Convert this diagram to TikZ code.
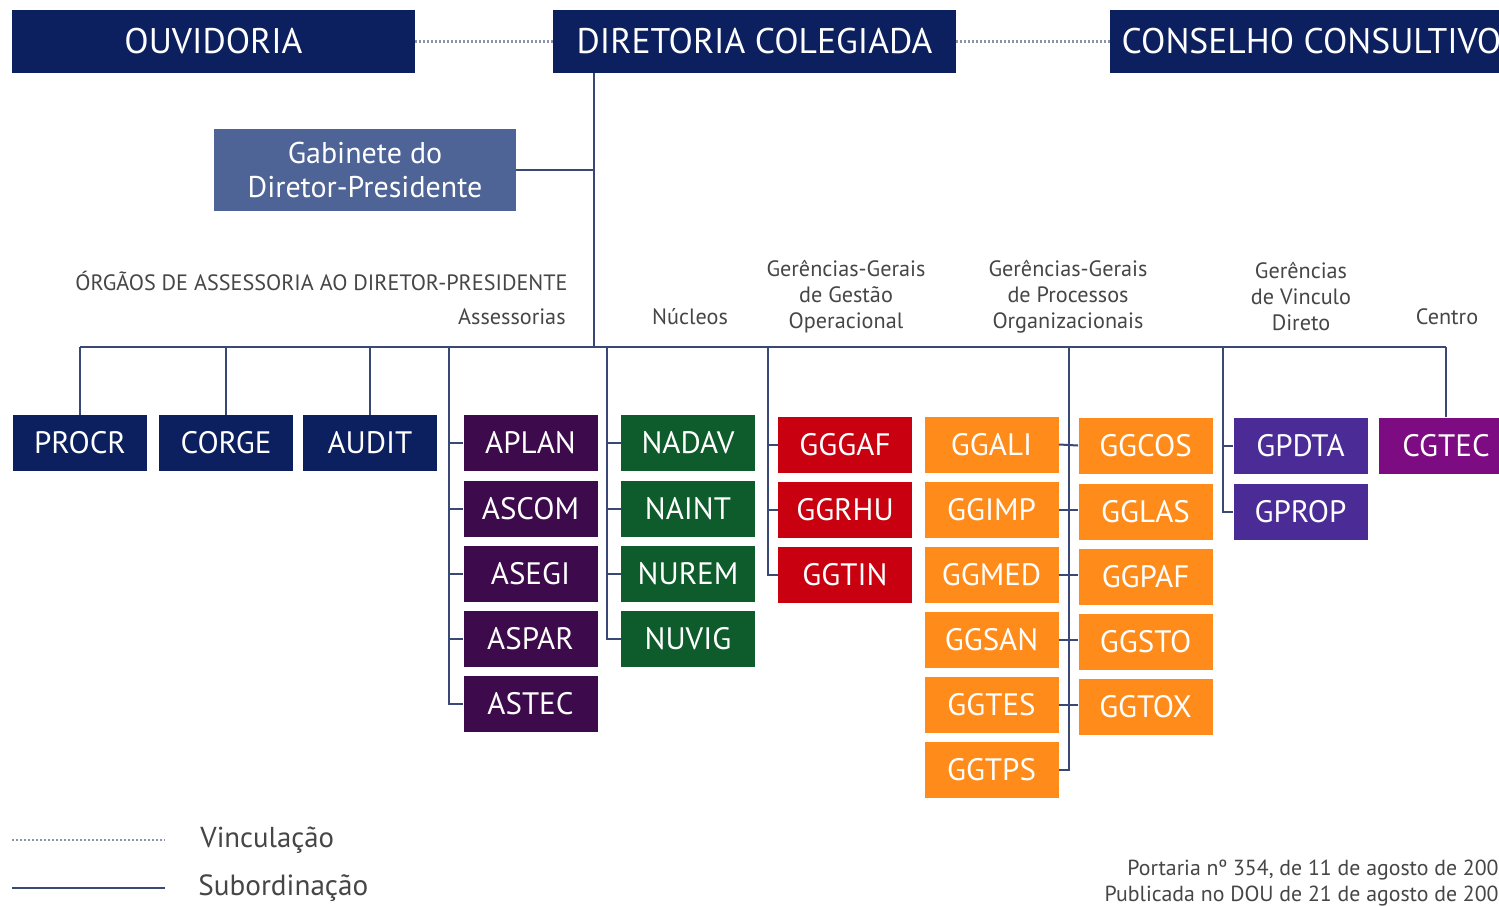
\documentclass[tikz,border=0pt]{standalone}
\usepackage{fontspec}
\setmainfont{PT Sans}
\definecolor{navy}{RGB}{12,31,94}
\definecolor{gab}{RGB}{78,99,150}
\definecolor{asspurp}{RGB}{61,11,76}
\definecolor{nucgreen}{RGB}{14,91,43}
\definecolor{ggred}{RGB}{200,0,15}
\definecolor{ggorange}{RGB}{255,140,26}
\definecolor{vinpurp}{RGB}{75,44,151}
\definecolor{cenpurp}{RGB}{125,11,130}
\definecolor{linec}{RGB}{58,72,118}
\definecolor{dotc}{RGB}{140,148,170}
\definecolor{labc}{RGB}{70,70,70}
\tikzset{
  topbox/.style={fill=navy, text=white, inner sep=0pt, minimum width=201.5pt, minimum height=31.5pt, font=\fontsize{17.8}{20}\selectfont},
  unitbox/.style={text=white, inner sep=0pt, minimum width=67pt, minimum height=28pt, font=\fontsize{15.5}{17}\selectfont},
  sub/.style={draw=linec, line width=1pt},
  vinc/.style={draw=dotc, line width=1.4pt, dash pattern=on 1pt off 1pt},
  hdr/.style={text=labc, font=\fontsize{11.1}{13}\selectfont, inner sep=0pt, align=center},
}
\begin{document}
\begin{tikzpicture}[x=0.5pt,y=-0.5pt]
\clip (0,0) rectangle (1499,905);
\fill[white] (0,0) rectangle (1499,905);
% top row
\node[topbox] (OUV) at (213.5,41.5) {OUVIDORIA};
\node[topbox] (DIR) at (754.5,41.5) {DIRETORIA COLEGIADA};
\node[topbox] (CONS) at (1311.5,41.5) {CONSELHO CONSULTIVO};
\draw[vinc] (OUV.east) -- (DIR.west);
\draw[vinc] (DIR.east) -- (CONS.west);
% gabinete
\node[fill=gab, text=white, inner sep=0pt, minimum width=151pt, minimum height=41pt, align=center, font=\fontsize{15}{17}\selectfont] (GAB) at (365,170) {Gabinete do\\Diretor-Presidente};
% headers
\node[hdr, anchor=east] (horg) at (568,281) {ÓRGÃOS DE ASSESSORIA AO DIRETOR-PRESIDENTE};
\node[hdr, anchor=east] (hass) at (566,317) {Assessorias};
\node[hdr] (hnuc) at (690,317) {Núcleos};
\node[hdr] (hggo) at (846,297) {Gerências-Gerais\\de Gestão\\Operacional};
\node[hdr] (hggp) at (1068,297) {Gerências-Gerais\\de Processos\\Organizacionais};
\node[hdr] (hvin) at (1301,297) {Gerências\\de Vinculo\\Direto};
\node[hdr] (hcen) at (1447,317) {Centro};
% units
\node[unitbox, fill=navy] (PROCR) at (80,443) {PROCR};
\node[unitbox, fill=navy] (CORGE) at (226,443) {CORGE};
\node[unitbox, fill=navy] (AUDIT) at (370,443) {AUDIT};
\node[unitbox, fill=asspurp] (APLAN) at (530.5,443) {APLAN};
\node[unitbox, fill=asspurp] (ASCOM) at (530.5,508.5) {ASCOM};
\node[unitbox, fill=asspurp] (ASEGI) at (530.5,573.5) {ASEGI};
\node[unitbox, fill=asspurp] (ASPAR) at (530.5,638.5) {ASPAR};
\node[unitbox, fill=asspurp] (ASTEC) at (530.5,703.5) {ASTEC};
\node[unitbox, fill=nucgreen] (NADAV) at (688,443) {NADAV};
\node[unitbox, fill=nucgreen] (NAINT) at (688,508.5) {NAINT};
\node[unitbox, fill=nucgreen] (NUREM) at (688,573.5) {NUREM};
\node[unitbox, fill=nucgreen] (NUVIG) at (688,638.5) {NUVIG};
\node[unitbox, fill=ggred] (GGGAF) at (845,444.5) {GGGAF};
\node[unitbox, fill=ggred] (GGRHU) at (845,509.5) {GGRHU};
\node[unitbox, fill=ggred] (GGTIN) at (845,574.5) {GGTIN};
\node[unitbox, fill=ggorange] (GGALI) at (991.5,444.5) {GGALI};
\node[unitbox, fill=ggorange] (GGIMP) at (991.5,509.5) {GGIMP};
\node[unitbox, fill=ggorange] (GGMED) at (991.5,574.5) {GGMED};
\node[unitbox, fill=ggorange] (GGSAN) at (991.5,639.5) {GGSAN};
\node[unitbox, fill=ggorange] (GGTES) at (991.5,704.5) {GGTES};
\node[unitbox, fill=ggorange] (GGTPS) at (991.5,769.5) {GGTPS};
\node[unitbox, fill=ggorange] (GGCOS) at (1145.5,445.5) {GGCOS};
\node[unitbox, fill=ggorange] (GGLAS) at (1145.5,511.5) {GGLAS};
\node[unitbox, fill=ggorange] (GGPAF) at (1145.5,576.5) {GGPAF};
\node[unitbox, fill=ggorange] (GGSTO) at (1145.5,641.5) {GGSTO};
\node[unitbox, fill=ggorange] (GGTOX) at (1145.5,706.5) {GGTOX};
\node[unitbox, fill=vinpurp] (GPDTA) at (1300.5,445.5) {GPDTA};
\node[unitbox, fill=vinpurp] (GPROP) at (1300.5,511.5) {GPROP};
\node[unitbox, fill=cenpurp] (CGTEC) at (1446,445.5) {CGTEC};
% connectors
\coordinate (trunk) at (594,347);
\coordinate (sA) at (449,347);
\coordinate (sN) at (607,347);
\coordinate (sG) at (768,347);
\coordinate (sP) at (1069,347);
\coordinate (sV) at (1223,347);
\draw[sub] (trunk |- DIR.south) -- (trunk);
\draw[sub] (GAB.east) -- (GAB.east -| trunk);
\draw[sub] (PROCR.north |- trunk) -- (CGTEC.north |- trunk);
\draw[sub] (PROCR.north |- trunk) -- (PROCR.north);
\draw[sub] (CORGE.north |- trunk) -- (CORGE.north);
\draw[sub] (AUDIT.north |- trunk) -- (AUDIT.north);
\draw[sub] (CGTEC.north |- trunk) -- (CGTEC.north);
\draw[sub] (sA) |- (ASTEC.west);
\foreach \n in {APLAN,ASCOM,ASEGI,ASPAR} \draw[sub] (sA |- \n.west) -- (\n.west);
\draw[sub] (sN) |- (NUVIG.west);
\foreach \n in {NADAV,NAINT,NUREM} \draw[sub] (sN |- \n.west) -- (\n.west);
\draw[sub] (sG) |- (GGTIN.west);
\foreach \n in {GGGAF,GGRHU} \draw[sub] (sG |- \n.west) -- (\n.west);
\draw[sub] (sP) |- (GGTPS.east);
\draw[sub] (GGALI.east) -- (GGCOS.west);
\draw[sub] (GGIMP.east) -- (GGIMP.east -| GGLAS.west);
\draw[sub] (GGMED.east) -- (GGMED.east -| GGPAF.west);
\draw[sub] (GGSAN.east) -- (GGSAN.east -| GGSTO.west);
\draw[sub] (GGTES.east) -- (GGTES.east -| GGTOX.west);
\draw[sub] (sV) |- (GPROP.west);
\draw[sub] (sV |- GPDTA.west) -- (GPDTA.west);
% legend
\coordinate (l1a) at (12,840);
\coordinate (l1b) at (165,840);
\coordinate (l2a) at (12,888);
\coordinate (l2b) at (165,888);
\draw[vinc] (l1a) -- (l1b);
\draw[sub, line width=1.2pt] (l2a) -- (l2b);
\node[anchor=west, text=labc, inner sep=0pt, font=\fontsize{14.4}{16}\selectfont] (lv) at (200,840) {Vinculação};
\node[anchor=west, text=labc, inner sep=0pt, font=\fontsize{14.6}{16}\selectfont] (ls) at (198,888) {Subordinação};
% footer
\node[anchor=east, align=right, text=labc, inner sep=0pt, font=\fontsize{10.9}{13}\selectfont] (foot) at (1499,883) {Portaria nº 354, de 11 de agosto de 200\\Publicada no DOU de 21 de agosto de 200};
\end{tikzpicture}
\end{document}
